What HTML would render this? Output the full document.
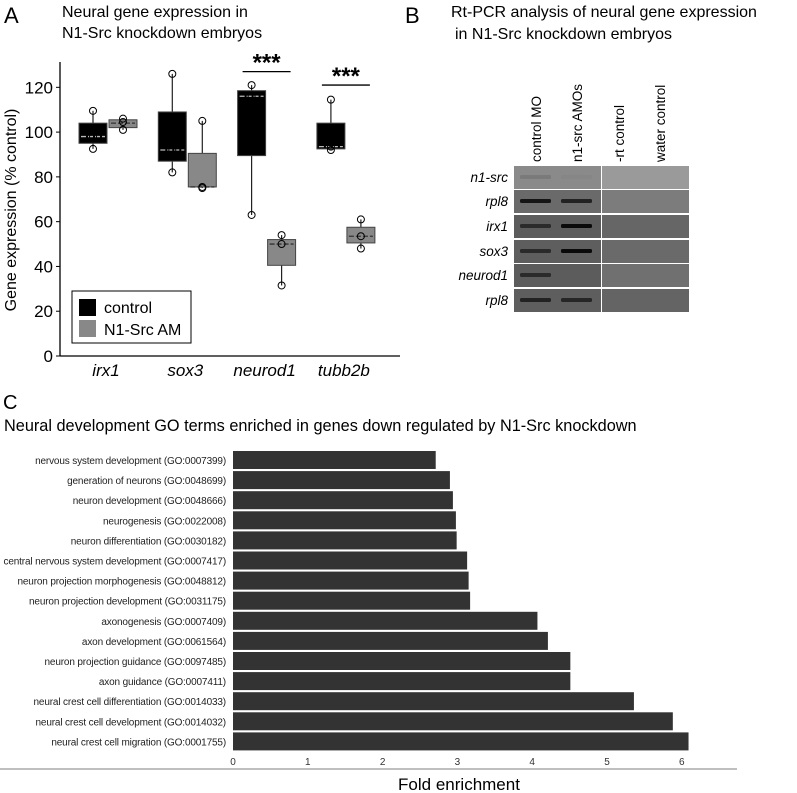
<!DOCTYPE html>
<html><head><meta charset="utf-8"><style>
body{margin:0;background:#fff;width:797px;height:793px;overflow:hidden;font-family:"Liberation Sans",sans-serif}
svg{position:absolute;left:0;top:0}
</style></head><body>
<svg id="fig" width="797" height="793" viewBox="0 0 797 793">
<text x="4" y="23" font-size="22">A</text>
<text x="62" y="17" font-size="16">Neural gene expression in</text>
<text x="62" y="38" font-size="16">N1-Src knockdown embryos</text>
<g id="boxplot"></g>
<text x="405" y="23" font-size="22">B</text>
<text x="451" y="17" font-size="16">Rt-PCR analysis of neural gene expression</text>
<text x="455" y="39" font-size="16">in N1-Src knockdown embryos</text>
<g id="gel"></g>
<text x="3" y="409" font-size="20">C</text>
<text x="4" y="431" font-size="16.3">Neural development GO terms enriched in genes down regulated by N1-Src knockdown</text>
<g id="bars"></g>
</svg>
<script>
const NS="http://www.w3.org/2000/svg";
function mk(p,t,a){const e=document.createElementNS(NS,t);for(const k in a)e.setAttribute(k,a[k]);p.appendChild(e);return e;}

// ---- Panel A data ----
const genes=["irx1","sox3","neurod1","tubb2b"];
const ctrlBox=[[95,104,98],[87,109,92],[89.5,118.5,116],[92.5,104,93.5]];
const ctrlWhisk=[[92.5,109.5],[82,126],[63,121],[92,114.5]];
const ctrlPts=[[109.5,92.5,98],[126,82,92],[121,63,116],[114.5,92,93.5]];
const amBox=[[102,105.5,104],[75.5,90.5,75.5],[40.5,52,50],[50.5,57.5,53.5]];
const amWhisk=[[101,106],[75,105],[31.5,54],[48,61]];
const amPts=[[106,104.5,101],[105,75.5,75],[54,50,31.5],[61,53.5,48]];
const yTicks=[0,20,40,60,80,100,120];
const sigGenes=[2,3];
const sigY=[127,121];

const A=document.getElementById('boxplot');
const y=v=>356-v*2.239;
const xc=i=>108+i*79.3;
mk(A,'line',{x1:60,y1:62,x2:60,y2:356,stroke:'#000','stroke-width':1.3});
mk(A,'line',{x1:60,y1:356,x2:400,y2:356,stroke:'#000','stroke-width':1.3});
yTicks.forEach(t=>{
 const l=mk(A,'line',{x1:56,x2:60,y1:y(t),y2:y(t),stroke:'#000'});
 
 
 const tx=mk(A,'text',{x:53,y:y(t)+6,'font-size':17,'text-anchor':'end'});tx.textContent=t;
 
 
});
const yt=mk(A,'text',{x:0,y:0,'font-size':16,'text-anchor':'middle',transform:'translate(16,210) rotate(-90)'});
yt.textContent='Gene expression (% control)';


function drawBox(cx,b,w,pts,fill,med,name){
 const g=mk(A,'g',{});
 
 
 mk(g,'line',{x1:cx,x2:cx,y1:y(w[0]),y2:y(w[1]),stroke:'#222','stroke-width':1.2});
 mk(g,'rect',{x:cx-14,y:y(b[1]),width:28,height:y(b[0])-y(b[1]),fill:fill,stroke:'#444','stroke-width':1});
 mk(g,'line',{x1:cx-12,x2:cx+12,y1:y(b[2]),y2:y(b[2]),stroke:med,'stroke-width':1.3,'stroke-dasharray':'5,2'});
 pts.forEach(p=>mk(g,'circle',{cx:cx,cy:y(p),r:3.5,fill:'none',stroke:'#000','stroke-width':1}));
}
genes.forEach((gn,i)=>{
 drawBox(xc(i)-15,ctrlBox[i],ctrlWhisk[i],ctrlPts[i],'#000','#bbb','box-control-'+gn);
 drawBox(xc(i)+15,amBox[i],amWhisk[i],amPts[i],'#888','#333','box-n1src-'+gn);
 const t=mk(A,'text',{x:xc(i)-2,y:376,'font-size':17,'font-style':'italic','text-anchor':'middle'});t.textContent=gn;
 
 
});
sigGenes.forEach((gi,k)=>{
 const l=mk(A,'line',{x1:xc(gi)-24,x2:xc(gi)+24,y1:y(sigY[k]),y2:y(sigY[k]),stroke:'#000','stroke-width':1.3});
 
 
 const t=mk(A,'text',{x:xc(gi),y:y(sigY[k])-1,'font-size':24,'font-weight':'bold','text-anchor':'middle'});t.textContent='***';
 
 
});
const lg=mk(A,'g',{});


mk(lg,'rect',{x:72,y:291,width:119,height:52,fill:'#fff',stroke:'#000','stroke-width':1});
mk(lg,'rect',{x:79,y:299,width:17,height:17,fill:'#000'});
mk(lg,'rect',{x:79,y:320,width:17,height:17,fill:'#888'});
let lt=mk(lg,'text',{x:104,y:313,'font-size':16});lt.textContent='control';
lt=mk(lg,'text',{x:104,y:335,'font-size':16});lt.textContent='N1-Src AM';

// ---- Panel B gel ----
const G=document.getElementById('gel');
const lanes=["control MO","n1-src AMOs","-rt control","water control"];
const laneX=[536,577,619,660];
const rows=["n1-src","rpl8","irx1","sox3","neurod1","rpl8"];
const rowTop=[166,190,215,240,264,289];
const rowBg=[["#8a8a8a","#9a9a9a"],["#6a6a6a","#7c7c7c"],["#5c5c5c","#666"],["#5e5e5e","#6a6a6a"],["#5c5c5c","#707070"],["#5e5e5e","#646464"]];
const bandC=[["#7a7a7a","#868686"],["#151515","#222"],["#2a2a2a","#0a0a0a"],["#2a2a2a","#0a0a0a"],["#2a2a2a",null],["#222","#262626"]];
rows.forEach((r,i)=>{
 mk(G,'rect',{x:514,y:rowTop[i],width:87,height:23,fill:rowBg[i][0]});
 mk(G,'rect',{x:602,y:rowTop[i],width:87,height:23,fill:rowBg[i][1]});
 bandC[i].forEach((c,j)=>{if(c){const b=mk(G,'rect',{x:laneX[j]-16,y:rowTop[i]+9,width:31,height:4,rx:1.5,fill:c});
  
  }});
 const t=mk(G,'text',{x:508,y:rowTop[i]+16,'font-size':13.5,'font-style':'italic','text-anchor':'end'});t.textContent=r;
 
 
});
lanes.forEach((l,j)=>{
 const t=mk(G,'text',{x:0,y:0,'font-size':13.5,transform:`translate(${laneX[j]+5},162) rotate(-90)`});t.textContent=l;
 
 
});

// ---- Panel C bars ----
const terms=["nervous system development (GO:0007399)","generation of neurons (GO:0048699)","neuron development (GO:0048666)","neurogenesis (GO:0022008)","neuron differentiation (GO:0030182)","central nervous system development (GO:0007417)","neuron projection morphogenesis (GO:0048812)","neuron projection development (GO:0031175)","axonogenesis (GO:0007409)","axon development (GO:0061564)","neuron projection guidance (GO:0097485)","axon guidance (GO:0007411)","neural crest cell differentiation (GO:0014033)","neural crest cell development (GO:0014032)","neural crest cell migration (GO:0001755)"];
const fold=[2.71,2.9,2.94,2.98,2.99,3.13,3.15,3.17,4.07,4.21,4.51,4.51,5.36,5.88,6.09];
const xTicks=[0,1,2,3,4,5,6];
const C=document.getElementById('bars');
const fx=v=>233+v*74.8;
const by=i=>451+i*20.1;
terms.forEach((t,i)=>{
 const r=mk(C,'rect',{x:fx(0),y:by(i),width:fx(fold[i])-fx(0),height:18,fill:'#333'});
 
 
 const tx=mk(C,'text',{x:226,y:by(i)+13,'font-size':10,'letter-spacing':'-0.15','text-anchor':'end',fill:'#222'});tx.textContent=t;
 
 
});
xTicks.forEach(t=>{
 const tx=mk(C,'text',{x:fx(t),y:765,'font-size':10,'text-anchor':'middle',fill:'#333'});tx.textContent=t;
 
 
});
mk(C,'line',{x1:0,x2:737,y1:769,y2:769,stroke:'#aaa','stroke-width':1.5});
const xt=mk(C,'text',{x:459,y:790,'font-size':17,'text-anchor':'middle'});xt.textContent='Fold enrichment';


</script>
</body></html>
